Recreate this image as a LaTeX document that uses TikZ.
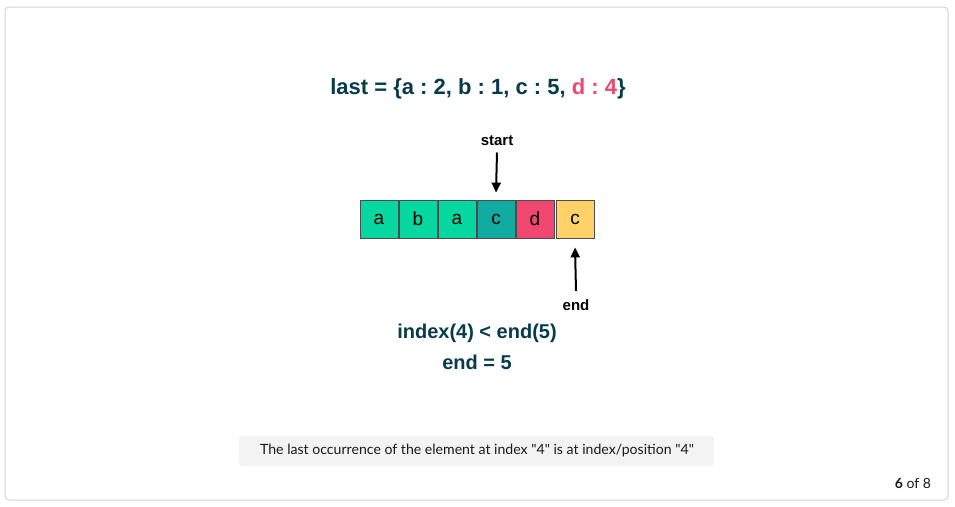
\documentclass[tikz,border=0pt]{standalone}
\usepackage{fontspec}
\setmainfont{Liberation Sans}
\newfontfamily\capfont{Lato}
\usetikzlibrary{positioning,arrows.meta}
\frenchspacing
\definecolor{navy}{HTML}{073B4C}
\definecolor{mint}{HTML}{06D6A0}
\definecolor{teal}{HTML}{11ABA2}
\definecolor{rose}{HTML}{EF476F}
\definecolor{sun}{HTML}{FFD166}
\definecolor{frame}{HTML}{D3D3D3}
\definecolor{capbg}{HTML}{F3F3F3}

\begin{document}
\begin{tikzpicture}[x=1pt,y=-1pt,
    cell/.style={rectangle, draw=black!70, line width=0.8pt, minimum height=38pt, minimum width=38pt, inner sep=0pt, font=\fontsize{19}{19}\selectfont},
    label/.style={font=\bfseries\fontsize{15}{15}\selectfont, text=black},
    line/.style={font=\bfseries\fontsize{20}{20}\selectfont, text=navy},
    pointer/.style={-{Triangle[length=10pt,width=9pt]}, line width=2pt}]
\useasboundingbox (0,0) rectangle (955,506);
\draw[frame, line width=1pt, rounded corners=4pt] (5,7) rectangle (948,500);

\node[font=\bfseries\fontsize{22}{22}\selectfont, text=navy]
    (title) at (478,89) {last = \{a : 2, b : 1, c : 5, \textcolor{rose}{d : 4}\}};

\node[cell, fill=mint] (1) at (379,219) {a};
\node[cell, fill=mint] (2) at (418,219) {b};
\node[cell, fill=mint] (3) at (457,219) {a};
\node[cell, fill=teal] (4) at (496,219) {c};
\node[cell, fill=rose] (5) at (535,219) {d};
\node[cell, fill=sun] (6) at (575,219) {c};

\node[label] (start) at (497,141) {start};
\draw[pointer] ([yshift=-3pt]start.south) -- ([yshift=7pt]4.north);
\node[label] (end) at (576,305) {end};
\draw[pointer] ([yshift=5pt]end.north) -- ([yshift=-9pt]6.south);

\node[line] (cmp) at (477,333) {index(4) < end(5)};
\node[line] (res) at (477,362) {end = 5};

\fill[capbg, rounded corners=3pt] (239,436) rectangle (714,466);
\node[font=\capfont\fontsize{14.1}{14.1}\selectfont, text=black!90] (cap) at (477,451)
    {The last occurrence of the element at index "4" is at index/position "4"};
\node[font=\capfont\fontsize{14}{14}\selectfont, text=black!90] (page) at (913,483)
    {\textbf{6} of 8};
\end{tikzpicture}
\end{document}
